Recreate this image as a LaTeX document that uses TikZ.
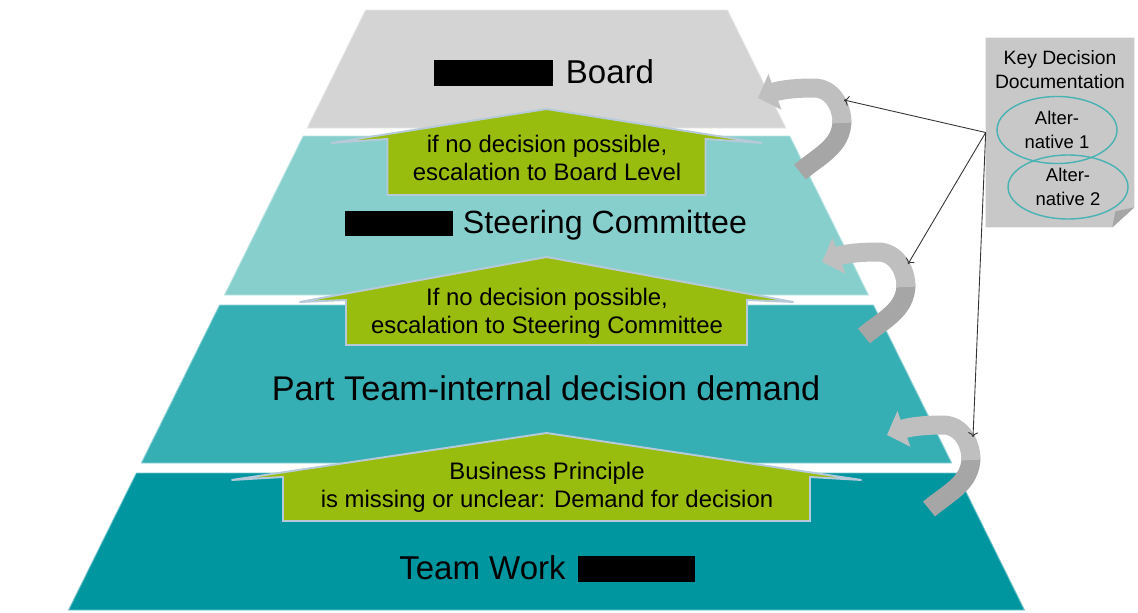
\documentclass[tikz,border=0pt]{standalone}
\usepackage{fontspec}
\setmainfont{Liberation Sans}
\usepackage{tikz}
\usepackage{xcolor}
\usetikzlibrary{arrows.meta,positioning,calc,shapes.geometric}

\definecolor{boardgray}{RGB}{212,212,212}
\definecolor{steerteal}{RGB}{135,207,205}
\definecolor{partteal}{RGB}{54,175,180}
\definecolor{workteal}{RGB}{0,150,160}
\definecolor{escgreen}{RGB}{153,189,14}
\definecolor{escrim}{RGB}{182,202,218}
\definecolor{loopgray}{RGB}{191,191,191}
\definecolor{loopdark}{RGB}{166,166,166}
\definecolor{docgray}{RGB}{200,200,200}
\definecolor{altline}{RGB}{72,178,180}

\begin{document}
\begin{tikzpicture}[x=0.02cm, y=-0.02cm,
    layer/.style={fill=#1, draw=white!45!#1, line width=0.5pt},
    escarrow/.style={fill=escgreen, draw=escrim, line width=1.1pt},
    esctext/.style={font=\fontsize{13.6}{16}\selectfont, align=center},
    levelname/.style={font=\fontsize{18.8}{22}\selectfont, anchor=base},
    band/.style={line width=0.38cm},
    doclink/.style={draw=black!80, line width=0.5pt, ->},
    alt/.style={ellipse, draw=altline, line width=0.8pt, minimum width=2.4cm,
        minimum height=1.34cm, inner sep=0pt, align=center,
        font=\fontsize{10.5}{13.6}\selectfont}]
    \useasboundingbox (0,0) rectangle (1138,612);

    % pyramid levels, half width grows with depth
    \foreach \ya/\yb/\col in {10/128/boardgray, 136/295/steerteal, 305/463/partteal, 473/610/workteal}{
        \pgfmathsetmacro\wa{176+0.495*\ya}
        \pgfmathsetmacro\wb{176+0.495*\yb}
        \filldraw[layer=\col] (546.5-\wa,\ya) -- (546.5+\wa,\ya) -- (546.5+\wb,\yb) -- (546.5-\wb,\yb) -- cycle;
    }

    % escalation arrows pointing up one level
    \foreach \tip/\wing/\neck/\foot/\wh/\bh in {109/143/139/195/215.5/159, 257/302/300/345/247/200.5, 433/480/477/521/315/263.5}
        \draw[escarrow] (546.5,\tip) -- (546.5+\wh,\wing) -- (546.5+\bh,\neck) -- (546.5+\bh,\foot)
            -- (546.5-\bh,\foot) -- (546.5-\bh,\neck) -- (546.5-\wh,\wing) -- cycle;

    % level names
    \node[levelname] (board) at (544,83) {\rule[-0.1em]{2.38cm}{0.52cm}\hspace{0.26cm}Board};
    \node[levelname, font=\fontsize{18.3}{22}\selectfont] (steer) at (546,233) {\rule[-0.1em]{2.16cm}{0.5cm}\hspace{0.2cm}Steering Committee};
    \node[levelname, font=\fontsize{19.5}{22}\selectfont] (partteam) at (546,400) {Part Team-internal decision demand};
    \node[levelname] (teamwork) at (547,579) {Team Work\hspace{0.24cm}\rule[-0.1em]{2.34cm}{0.52cm}};

    \node[esctext] (esc1) at (547,158) {if no decision possible,\\escalation to Board Level};
    \node[esctext] (esc2) at (547,313.5) {If no decision possible,\\escalation to Steering Committee};
    \node[esctext] (demand) at (547,487) {Business Principle\\is missing or unclear: Demand for decision};

    % loop-back arrows on the right side
    \foreach \tx/\ty/\nm in {758/98/back1, 822/262/back2, 887/435/back3}{
        \begin{scope}[shift={(\tx,\ty)}]
            \draw[band, loopdark] (84,22) to[out=-90, in=40] (42,74);
            \draw[band, loopgray, -{Triangle[width=0.74cm,length=0.36cm]}]
                (84,25) to[out=90, in=0] (56,-10) to[out=180, in=20] (0,0);
            \coordinate (\nm) at (86,2);
        \end{scope}
    }

    % key decision sheet with folded corner
    \node[minimum width=2.96cm, minimum height=3.78cm, inner sep=0pt] (doc) at (1060,132.5) {};
    \fill[docgray] (doc.north west) -- (doc.north east) -- ($(doc.south east)+(0,-20)$)
        -- ($(doc.south east)+(-22,0)$) -- (doc.south west) -- cycle;
    \fill[loopdark] ($(doc.south east)+(0,-20)$) -- ($(doc.south east)+(-22,0)$)
        -- ($(doc.south east)+(-19,-16)$) -- cycle;
    \node[font=\fontsize{11}{13.6}\selectfont, align=center, below=4pt of doc.north] (doctitle) {Key Decision\\Documentation};
    \node[alt] (alt1) at (1057,130) {Alter-\\native 1};
    \node[alt, minimum height=1.28cm] (alt2) at (1068,187) {Alter-\\native 2};

    \foreach \nm in {back1, back2, back3}
        \draw[doclink] (doc.west) -- (\nm);
\end{tikzpicture}
\end{document}
